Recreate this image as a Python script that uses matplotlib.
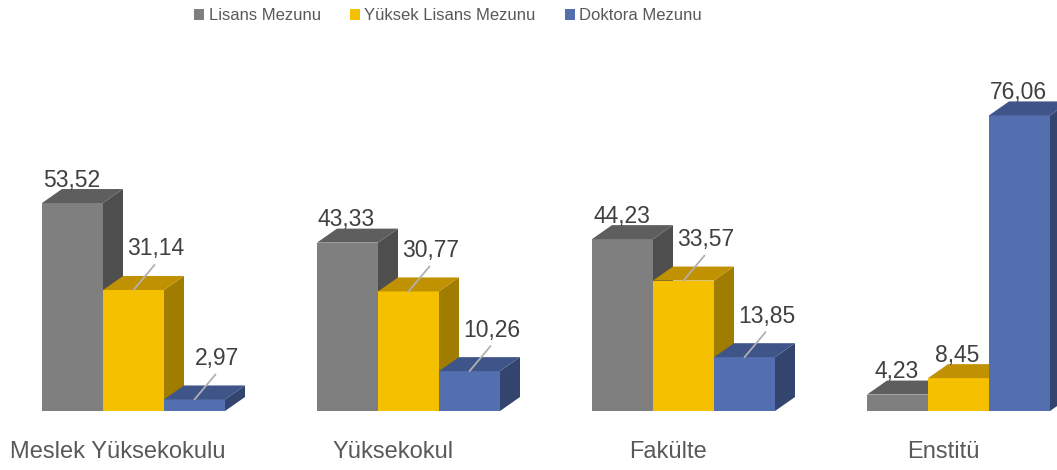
import matplotlib
matplotlib.use("Agg")
import matplotlib.pyplot as plt
from matplotlib.patches import Polygon, Patch

# data
categories = ["Meslek Yüksekokulu", "Yüksekokul", "Fakülte", "Enstitü"]
series = ["Lisans Mezunu", "Yüksek Lisans Mezunu", "Doktora Mezunu"]
lisans = [53.52, 43.33, 44.23, 4.23]
yuksek_lisans = [31.14, 30.77, 33.57, 8.45]
doktora = [2.97, 10.26, 13.85, 76.06]
values = [lisans, yuksek_lisans, doktora]

# colours: front, top, side
front = ["#7f7f7f", "#f5c000", "#536fb0"]
top = ["#5e5e5e", "#c09100", "#3f5589"]
side = ["#4e4e4e", "#a07c00", "#33446e"]

plt.rcParams["font.family"] = ["Liberation Sans", "DejaVu Sans"]

W, H = 1057, 470
fig = plt.figure(figsize=(W / 100, H / 100), dpi=100)
ax = fig.add_axes([0, 0, 1, 1])
ax.axis("off")

# pixel geometry -> data units
px_x = 275.0          # pixels per category
px_y = 3.886          # pixels per percent
base_px = 59.0        # baseline from bottom
ax.set_xlim(-133.5 / px_x, (W - 133.5) / px_x)
ax.set_ylim(-base_px / px_y, (H - base_px) / px_y)

w = 61 / px_x
dx = 20 / px_x
dy = 14 / px_y
pt = 0.72  # points per pixel

z = 1
for i, cat in enumerate(categories):
    for j in range(3):
        v = values[j][i]
        xc = i + (j - 1) * w
        ax.bar(xc, v, width=w, color=front[j], zorder=z, linewidth=0)
        x0, x1 = xc - w / 2, xc + w / 2
        ax.add_patch(Polygon([(x1, 0), (x1, v), (x1 + dx, v + dy), (x1 + dx, dy)],
                             closed=True, fc=side[j], lw=0, zorder=z + 0.5))
        ax.add_patch(Polygon([(x0, v), (x1, v), (x1 + dx, v + dy), (x0 + dx, v + dy)],
                             closed=True, fc=top[j], lw=0, zorder=z + 0.6))
        z += 1

        label = f"{v:.2f}".replace(".", ",")
        shorter = j > 0 and v < values[j - 1][i]
        if shorter:
            ax.annotate(label, xy=(xc, v), xytext=(22 * pt, 41 * pt),
                        textcoords="offset points", ha="center", va="center",
                        fontsize=16.5, color="#404040", zorder=100)
            ax.annotate("", xy=(xc, v), xytext=(21 * pt, 25 * pt),
                        textcoords="offset points",
                        arrowprops=dict(arrowstyle="-", color="#b0b0b0", lw=1.3,
                                        shrinkA=0, shrinkB=0), zorder=100)
        else:
            ax.annotate(label, xy=(xc, v), xytext=(-1 * pt, 23 * pt),
                        textcoords="offset points", ha="center", va="center",
                        fontsize=16.5, color="#404040", zorder=100)

    ax.annotate(cat, xy=(i, 0), xytext=(-15.5 * pt, -41 * pt),
                textcoords="offset points", ha="center", va="center",
                fontsize=17, color="#595959")

handles = [Patch(facecolor=front[k], edgecolor="none") for k in range(3)]
fig.legend(handles, series, loc="center", bbox_to_anchor=(448 / W, 1 - 16 / H),
           ncol=3, frameon=False, handlelength=0.6, handleheight=0.6,
           handletextpad=0.25, columnspacing=1.75, labelcolor="#595959",
           prop={"family": ["Liberation Sans"], "size": 12})

fig.savefig("out.png", dpi=100)
